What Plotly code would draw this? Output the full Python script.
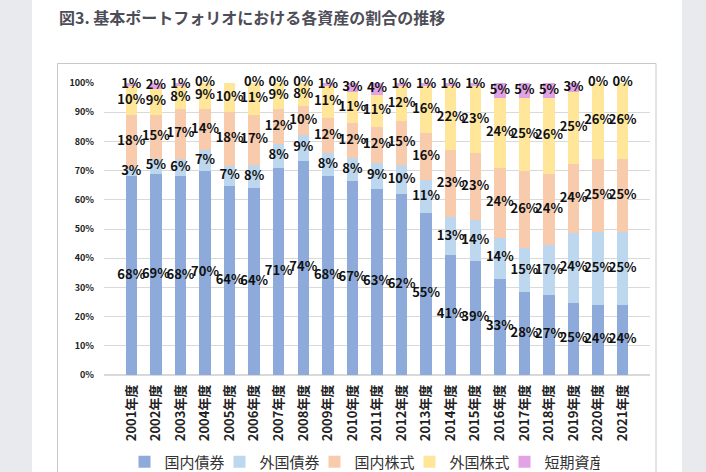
import plotly.graph_objects as go

years = [f"{y}年度" for y in range(2001, 2022)]
series_names = ["国内債券", "外国債券", "国内株式", "外国株式", "短期資産"]
domestic_bonds = [68, 69, 68, 70, 64, 64, 71, 74, 68, 67, 63, 62, 55, 41, 39, 33, 28, 27, 25, 24, 24]
foreign_bonds = [3, 5, 6, 7, 7, 8, 8, 9, 8, 8, 9, 10, 11, 13, 14, 14, 15, 17, 24, 25, 25]
domestic_stocks = [18, 15, 17, 14, 18, 17, 12, 10, 12, 12, 12, 15, 16, 23, 23, 24, 26, 24, 24, 25, 25]
foreign_stocks = [10, 9, 8, 9, 10, 11, 9, 8, 11, 11, 11, 12, 16, 22, 23, 24, 25, 26, 25, 26, 26]
short_term = [1, 2, 1, 0, 0, 0, 0, 0, 1, 3, 4, 1, 1, 1, 1, 5, 5, 5, 3, 0, 0]
series_values = [domestic_bonds, foreign_bonds, domestic_stocks, foreign_stocks, short_term]
colors = ["#8eaadb", "#bdd7ee", "#f8cbad", "#ffe699", "#e3a2e6"]
title_text = "図3. 基本ポートフォリオにおける各資産の割合の推移"

W, H = 706, 472
L, R, T, B = 104, 56, 83, 97
pw, ph = W - L - R, H - T - B


def px(x):
    return (x - L) / pw


def py(y):
    return 1 - (y - T) / ph


CJK = "Noto Sans CJK JP, Noto Sans, sans-serif"

fig = go.Figure()
for name, vals, col in zip(series_names, series_values, colors):
    fig.add_trace(go.Bar(
        x=years, y=vals, name=name, marker_color=col, marker_line_width=0,
        hoverinfo="skip",
    ))

# labels at the centre of each (normalised) segment
totals = [sum(v[i] for v in series_values) for i in range(len(years))]
cum = [0.0] * len(years)
for vals in series_values:
    mids = []
    for i, v in enumerate(vals):
        share = v / totals[i] * 100
        mids.append(cum[i] + share / 2)
        cum[i] += share
    fig.add_trace(go.Scatter(
        x=years, y=mids, mode="text", text=[f"{v}%" for v in vals],
        textfont=dict(family=CJK, size=13, color="#111111", weight="bold"),
        showlegend=False, hoverinfo="skip", cliponaxis=False,
    ))

shapes = [
    dict(type="rect", xref="paper", yref="paper", x0=px(0), x1=px(32), y0=py(H + 5), y1=py(-5),
         fillcolor="#e9eaee", line_width=0, layer="below"),
    dict(type="rect", xref="paper", yref="paper", x0=px(682), x1=px(W + 5), y0=py(H + 5), y1=py(-5),
         fillcolor="#e9eaee", line_width=0, layer="below"),
    dict(type="rect", xref="paper", yref="paper", x0=px(57.5), x1=px(656), y0=py(H + 10), y1=py(63.5),
         line=dict(color="#c8c8c8", width=1), fillcolor="rgba(0,0,0,0)", layer="below"),
]

fig.update_layout(
    width=W, height=H,
    margin=dict(l=L, r=R, t=T, b=B, pad=0, autoexpand=False),
    paper_bgcolor="white", plot_bgcolor="white",
    barmode="stack", barnorm="percent", bargap=0.53,
    font=dict(family=CJK, color="#222222"),
    shapes=shapes,
    showlegend=True,
    legend=dict(
        orientation="h", xref="container", yref="container",
        x=362 / W, y=1 - 462 / H, xanchor="center", yanchor="middle",
        font=dict(family=CJK, size=15, color="#333333"),
        bgcolor="rgba(0,0,0,0)",
        itemwidth=30, entrywidth=50, entrywidthmode="pixels",
        tracegroupgap=0, traceorder="normal",
    ),
    annotations=[dict(
        text=title_text, xref="paper", yref="paper", x=px(57), y=py(17),
        xanchor="left", yanchor="middle", showarrow=False,
        font=dict(family=CJK, size=16, color="#4d4d58", weight="bold"),
    )],
)
fig.update_xaxes(
    tickangle=-90, showgrid=False, showline=False, ticks="", automargin=False,
    ticklabelstandoff=6,
    tickfont=dict(family=CJK, size=13, color="#222222", weight="bold"),
)
fig.update_yaxes(
    range=[0, 100], tickvals=list(range(0, 101, 10)),
    ticktext=[f"{v}%" for v in range(0, 101, 10)], automargin=False,
    showgrid=True, gridcolor="#d9d9d9", gridwidth=1, zeroline=True, zerolinecolor="#d9d9d9",
    showline=False, ticks="", ticklabelstandoff=9,
    tickfont=dict(family=CJK, size=9, color="#222222", weight="bold"),
)

fig.write_html("out.html")
